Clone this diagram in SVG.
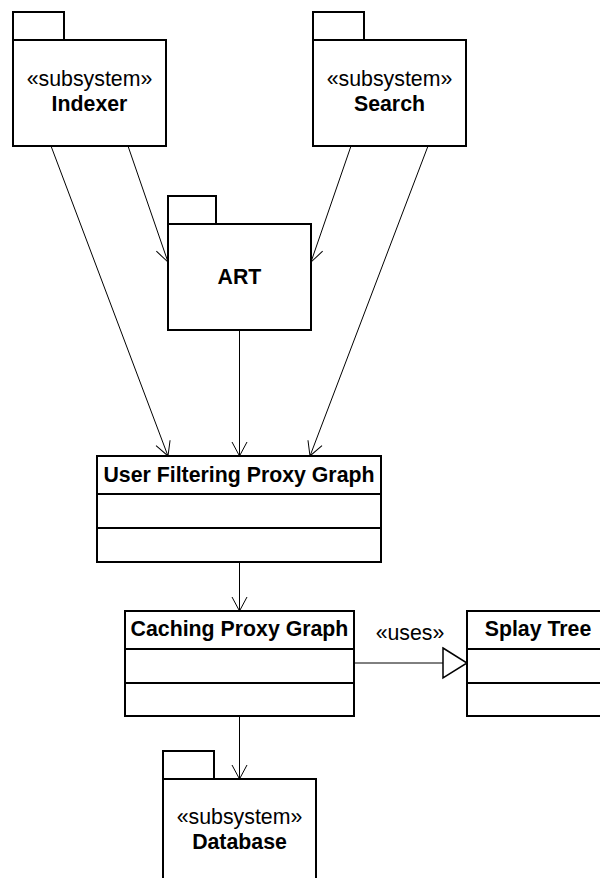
<svg xmlns="http://www.w3.org/2000/svg" width="600" height="878" viewBox="0 0 600 878">
<style>
.box{fill:#fff;stroke:#000;stroke-width:2}
.conn{fill:none;stroke:#000;stroke-width:1}
text{font-family:"Liberation Sans",Arial,sans-serif;font-size:21.3px;fill:#000;text-anchor:middle}
.b{font-weight:bold}
</style>
<defs>
<marker id="open" markerUnits="userSpaceOnUse" markerWidth="20" markerHeight="20" viewBox="-16 -10 18 20" refX="0" refY="0" orient="auto">
<path d="M-14,-7.5 L0,0 L-14,7.5" fill="none" stroke="#000" stroke-width="1"/>
</marker>
<marker id="tri" markerUnits="userSpaceOnUse" markerWidth="30" markerHeight="36" viewBox="-27 -17 30 34" refX="0" refY="0" orient="auto">
<path d="M-24,-15 L0,0 L-24,15 Z" fill="#fff" stroke="#000" stroke-width="1.5"/>
</marker>
</defs>
<rect width="600" height="878" fill="#fff"/>
<g id="connectors">
<line class="conn" x1="51" y1="146" x2="168" y2="456" marker-end="url(#open)"/>
<line class="conn" x1="128" y1="146" x2="168" y2="262" marker-end="url(#open)"/>
<line class="conn" x1="351" y1="146" x2="311" y2="262" marker-end="url(#open)"/>
<line class="conn" x1="428" y1="146" x2="310" y2="456" marker-end="url(#open)"/>
<line class="conn" x1="239.5" y1="330" x2="239.5" y2="456" marker-end="url(#open)"/>
<line class="conn" x1="239.5" y1="562" x2="239.5" y2="611" marker-end="url(#open)"/>
<line class="conn" x1="239.5" y1="716" x2="239.5" y2="779" marker-end="url(#open)"/>
<line class="conn" x1="354" y1="663" x2="467" y2="663" marker-end="url(#tri)"/>
<text x="410" y="640">«uses»</text>
</g>
<g id="indexer">
<rect class="box" x="13" y="12" width="51" height="28"/>
<rect class="box" x="13" y="40" width="153" height="106"/>
<text x="89.5" y="86">«subsystem»</text>
<text class="b" x="89.5" y="111">Indexer</text>
</g>
<g id="search">
<rect class="box" x="313" y="12" width="51" height="28"/>
<rect class="box" x="313" y="40" width="153" height="106"/>
<text x="389.5" y="86">«subsystem»</text>
<text class="b" x="389.5" y="111">Search</text>
</g>
<g id="art">
<rect class="box" x="168" y="196" width="48" height="28"/>
<rect class="box" x="168" y="224" width="143" height="106"/>
<text class="b" x="239.5" y="284">ART</text>
</g>
<g id="ufpg">
<rect class="box" x="97" y="456" width="284" height="106"/>
<line class="box" x1="97" y1="494" x2="381" y2="494"/>
<line class="box" x1="97" y1="528" x2="381" y2="528"/>
<text class="b" x="239" y="482">User Filtering Proxy Graph</text>
</g>
<g id="caching">
<rect class="box" x="125" y="611" width="229" height="105"/>
<line class="box" x1="125" y1="649" x2="354" y2="649"/>
<line class="box" x1="125" y1="683" x2="354" y2="683"/>
<text class="b" x="239.5" y="636">Caching Proxy Graph</text>
</g>
<g id="splay">
<rect class="box" x="467" y="611" width="142" height="105"/>
<line class="box" x1="467" y1="649" x2="609" y2="649"/>
<line class="box" x1="467" y1="683" x2="609" y2="683"/>
<text class="b" x="538" y="636">Splay Tree</text>
</g>
<g id="database">
<rect class="box" x="163" y="751" width="51" height="28"/>
<rect class="box" x="163" y="779" width="153" height="120"/>
<text x="239.5" y="824">«subsystem»</text>
<text class="b" x="239.5" y="849">Database</text>
</g>
</svg>
